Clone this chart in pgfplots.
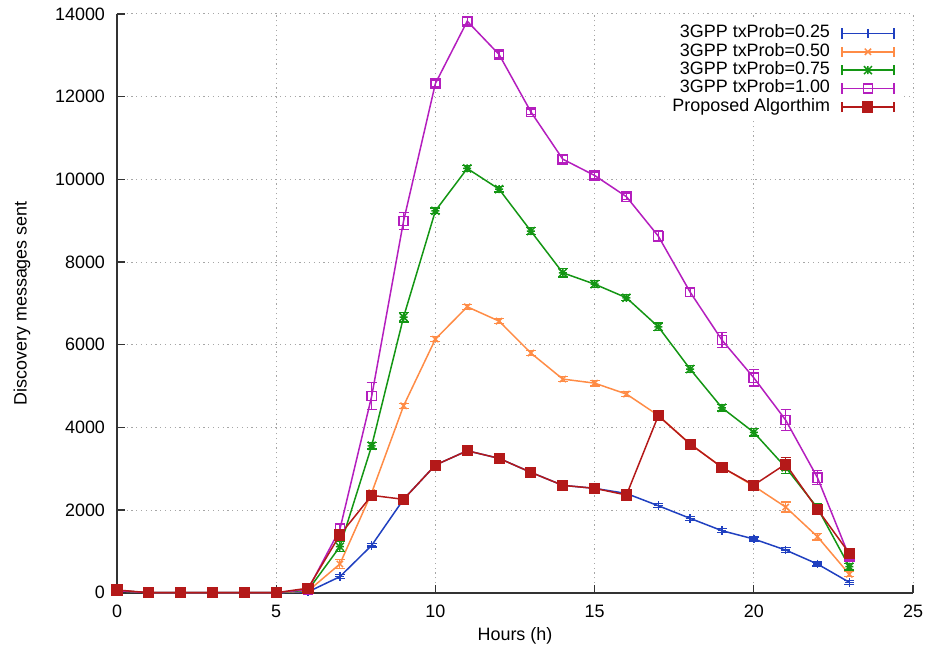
\documentclass[border=0pt]{standalone}
\usepackage{fontspec}
\setmainfont{Liberation Sans}
\usepackage{pgfplots}
\pgfplotsset{compat=1.18}
\definecolor{cblue}{RGB}{32,64,192}
\definecolor{corange}{RGB}{255,140,70}
\definecolor{cgreen}{RGB}{20,150,20}
\definecolor{cmag}{RGB}{180,30,190}
\definecolor{cred}{RGB}{180,25,25}
\pgfdeclareplotmark{gpstar}{%
 \pgfpathmoveto{\pgfqpoint{-\pgfplotmarksize}{0pt}}\pgfpathlineto{\pgfqpoint{\pgfplotmarksize}{0pt}}%
 \pgfpathmoveto{\pgfqpoint{0pt}{-\pgfplotmarksize}}\pgfpathlineto{\pgfqpoint{0pt}{\pgfplotmarksize}}%
 \pgfpathmoveto{\pgfqpoint{-\pgfplotmarksize}{-\pgfplotmarksize}}\pgfpathlineto{\pgfqpoint{\pgfplotmarksize}{\pgfplotmarksize}}%
 \pgfpathmoveto{\pgfqpoint{-\pgfplotmarksize}{\pgfplotmarksize}}\pgfpathlineto{\pgfqpoint{\pgfplotmarksize}{-\pgfplotmarksize}}%
 \pgfusepathqstroke}
\begin{document}
\begin{tikzpicture}
\path[use as bounding box] (-58.5bp,-30.65bp) rectangle (407bp,296.35bp);
\begin{axis}[
 at={(0,0)}, anchor=south west,
 scale only axis, width=398bp, height=289.35bp,
 xmin=0, xmax=25, ymin=0, ymax=14000,
 xtick={0,5,...,25}, ytick={0,2000,...,14000},
 scaled y ticks=false,
 /pgf/number format/set thousands separator={},
 /pgf/number format/assume math mode=true,
 axis x line*=bottom, axis y line*=left,
 axis line style={line width=1.1bp, black!80},
 tick align=inside, major tick length=4bp,
 tick style={black!80, line width=0.6bp},
 xticklabel style={yshift=-2.5bp},
 yticklabel style={xshift=-2.5bp},
 grid=major,
 major grid style={gray!70, line width=0.5bp, dash pattern=on 0.6bp off 1.8bp},
 font=\fontsize{9}{10.8}\selectfont,
 xlabel={Hours (h)}, ylabel={Discovery messages sent},
 xlabel style={at={(axis description cs:0.5,0)}, anchor=center, yshift=-21.6bp},
 ylabel style={at={(axis description cs:-0.1193,0.5)}, anchor=center},
 clip=false,
 every axis plot/.append style={line width=0.75bp},
 error bars/y dir=both, error bars/y explicit,
 error bars/error bar style={line width=0.6bp, solid},
 error bars/error mark options={rotate=90, mark size=2.5bp, line width=0.6bp},
 legend plot pos=right,
 legend cell align=right,
 legend style={at={(rel axis cs:0.985,0.99)}, anchor=north east, draw=none, fill=white,
   font=\fontsize{9}{10.8}\selectfont, row sep=0pt,
   /tikz/every odd column/.append style={column sep=5bp},
   nodes={inner sep=0.6bp, text height=6.2bp, text depth=1.8bp}},
 legend image code/.code={
   \draw[#1,mark=none] (0bp,0bp) -- (26bp,0bp);
   \draw[#1,mark=none,solid] (0bp,-2.6bp) -- (0bp,2.6bp) (26bp,-2.6bp) -- (26bp,2.6bp);
   \draw[#1] plot coordinates {(13bp,0bp)};
 },
]
\addplot[color=cblue, mark=+, mark size=2.2bp] coordinates {
(0,50) +- (0,20) (1,0) +- (0,10) (2,0) +- (0,10) (3,0) +- (0,10) (4,0) +- (0,10) (5,0) +- (0,10)
(6,20) +- (0,20) (7,387) +- (0,50) (8,1146) +- (0,40) (9,2259) +- (0,50) (10,3088) +- (0,50)
(11,3434) +- (0,50) (12,3250) +- (0,50) (13,2911) +- (0,50) (14,2597) +- (0,50) (15,2525) +- (0,50)
(16,2400) +- (0,50) (17,2104) +- (0,50) (18,1799) +- (0,50) (19,1500) +- (0,50) (20,1299) +- (0,50)
(21,1032) +- (0,60) (22,694) +- (0,50) (23,251) +- (0,50)};
\addlegendentry{3GPP txProb=0.25}
\addplot[color=corange, mark=x, mark size=2.2bp] coordinates {
(0,50) +- (0,20) (1,0) +- (0,10) (2,0) +- (0,10) (3,0) +- (0,10) (4,0) +- (0,10) (5,0) +- (0,10)
(6,40) +- (0,20) (7,694) +- (0,110) (8,2420) +- (0,60) (9,4520) +- (0,60) (10,6135) +- (0,60)
(11,6917) +- (0,60) (12,6570) +- (0,60) (13,5797) +- (0,60) (14,5168) +- (0,60) (15,5070) +- (0,70)
(16,4805) +- (0,60) (17,4290) +- (0,60) (18,3600) +- (0,60) (19,3035) +- (0,60) (20,2580) +- (0,80)
(21,2072) +- (0,120) (22,1355) +- (0,80) (23,445) +- (0,60)};
\addlegendentry{3GPP txProb=0.50}
\addplot[color=cgreen, mark=gpstar, mark size=2.0bp] coordinates {
(0,50) +- (0,20) (1,0) +- (0,10) (2,0) +- (0,10) (3,0) +- (0,10) (4,0) +- (0,10) (5,0) +- (0,10)
(6,60) +- (0,20) (7,1112) +- (0,120) (8,3555) +- (0,80) (9,6668) +- (0,120) (10,9238) +- (0,70)
(11,10263) +- (0,70) (12,9763) +- (0,70) (13,8747) +- (0,80) (14,7739) +- (0,100) (15,7465) +- (0,80)
(16,7135) +- (0,70) (17,6433) +- (0,90) (18,5410) +- (0,80) (19,4474) +- (0,80) (20,3879) +- (0,90)
(21,3032) +- (0,150) (22,2050) +- (0,100) (23,629) +- (0,80)};
\addlegendentry{3GPP txProb=0.75}
\addplot[color=cmag, mark=square, mark size=2.3bp] coordinates {
(0,50) +- (0,20) (1,0) +- (0,10) (2,0) +- (0,10) (3,0) +- (0,10) (4,0) +- (0,10) (5,0) +- (0,10)
(6,80) +- (0,20) (7,1533) +- (0,150) (8,4757) +- (0,330) (9,8990) +- (0,200) (10,12319) +- (0,80)
(11,13826) +- (0,80) (12,13020) +- (0,80) (13,11632) +- (0,70) (14,10488) +- (0,80) (15,10094) +- (0,70)
(16,9580) +- (0,70) (17,8627) +- (0,130) (18,7272) +- (0,100) (19,6111) +- (0,180) (20,5200) +- (0,200)
(21,4177) +- (0,250) (22,2782) +- (0,170) (23,870) +- (0,80)};
\addlegendentry{3GPP txProb=1.00}
\addplot[color=cred, mark=square*, mark size=2.4bp] coordinates {
(0,65) +- (0,20) (1,0) +- (0,10) (2,0) +- (0,10) (3,0) +- (0,10) (4,0) +- (0,10) (5,0) +- (0,10)
(6,110) +- (0,20) (7,1395) +- (0,100) (8,2355) +- (0,60) (9,2259) +- (0,50) (10,3088) +- (0,50)
(11,3434) +- (0,50) (12,3250) +- (0,50) (13,2911) +- (0,50) (14,2597) +- (0,50) (15,2525) +- (0,50)
(16,2363) +- (0,60) (17,4281) +- (0,60) (18,3596) +- (0,60) (19,3032) +- (0,60) (20,2604) +- (0,90)
(21,3112) +- (0,150) (22,2017) +- (0,120) (23,952) +- (0,90)};
\addlegendentry{Proposed Algorthim}
\end{axis}
\end{tikzpicture}
\end{document}
